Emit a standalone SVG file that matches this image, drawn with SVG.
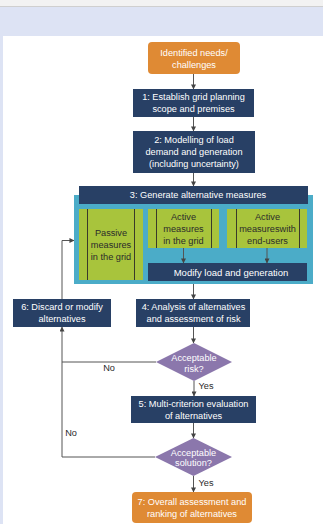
<svg xmlns="http://www.w3.org/2000/svg" width="323" height="524" viewBox="0 0 323 524">
<defs>
<style>
text{font-family:"Liberation Sans",Arial,sans-serif;font-size:9.2px;text-anchor:middle;dominant-baseline:central}
.w{fill:#ffffff}
.d{fill:#2b2b2b}
.navy{fill:#284065}
.org{fill:#df8a34}
.grn{fill:#a8c43c}
.dia{fill:#8b77ac}
.ln{fill:none;stroke:#555555;stroke-width:1}
.vl{stroke:#3a3a2a;stroke-width:1}
</style>
<marker id="ah" viewBox="0 0 6 6" refX="5.5" refY="3" markerWidth="5" markerHeight="5" orient="auto" markerUnits="userSpaceOnUse">
<path d="M0,0 L6,3 L0,6 z" fill="#444444"/>
</marker>
</defs>
<rect x="0" y="0" width="323" height="524" fill="#dde3f4"/>
<rect x="0" y="0" width="323" height="6" fill="#f2f2f2"/>
<line x1="0" y1="6.5" x2="323" y2="6.5" stroke="#cfcfcf" stroke-width="1"/>
<rect x="3" y="36" width="320" height="488" fill="#ffffff"/>

<g id="container">
<rect x="74" y="195" width="239" height="89" fill="#4bacc8"/>
</g>

<g id="n0"><rect class="org" x="148" y="42" width="92" height="32" rx="4"/>
<text class="w" x="194" y="53">Identified needs/</text><text class="w" x="194" y="65">challenges</text></g>

<g id="n1"><rect class="navy" x="133" y="89" width="121" height="28"/>
<text class="w" x="193.5" y="96.5">1: Establish grid planning</text><text class="w" x="193.5" y="109">scope and premises</text></g>

<g id="n2"><rect class="navy" x="133" y="131" width="122" height="42"/>
<text class="w" x="194" y="140">2: Modelling of load</text><text class="w" x="194" y="152">demand and generation</text><text class="w" x="194" y="164">(including uncertainty)</text></g>

<g id="n3"><rect class="navy" x="79" y="186" width="229" height="18"/>
<text class="w" x="198" y="195">3: Generate alternative measures</text></g>

<g id="passive"><rect class="grn" x="79" y="209" width="64" height="71"/>
<line class="vl" x1="87.5" y1="209" x2="87.5" y2="280"/><line class="vl" x1="134.5" y1="209" x2="134.5" y2="280"/>
<text class="d" x="111" y="233">Passive</text><text class="d" x="111" y="245">measures</text><text class="d" x="111" y="256.5">in the grid</text></g>

<g id="activegrid"><rect class="grn" x="148" y="209" width="71" height="39"/>
<line class="vl" x1="156.5" y1="209" x2="156.5" y2="248"/><line class="vl" x1="211.5" y1="209" x2="211.5" y2="248"/>
<text class="d" x="183.5" y="217">Active</text><text class="d" x="183.5" y="229">measures</text><text class="d" x="183.5" y="241">in the grid</text></g>

<g id="activeend"><rect class="grn" x="227" y="209" width="80" height="39"/>
<line class="vl" x1="236.5" y1="209" x2="236.5" y2="248"/><line class="vl" x1="299.5" y1="209" x2="299.5" y2="248"/>
<text class="d" x="267.5" y="217">Active</text><text class="d" x="267.5" y="229">measureswith</text><text class="d" x="267.5" y="241">end-users</text></g>

<g id="modify"><rect class="navy" x="148" y="263" width="159" height="18"/>
<text class="w" x="231" y="272" style="font-size:9.5px">Modify load and generation</text></g>

<g id="n4"><rect class="navy" x="136" y="299" width="114" height="28"/>
<text class="w" x="193.5" y="307">4: Analysis of alternatives</text><text class="w" x="193.5" y="319">and assessment of risk</text></g>

<g id="n6"><rect class="navy" x="13" y="299" width="98" height="28"/>
<text class="w" x="62" y="307">6: Discard or modify</text><text class="w" x="62" y="319">alternatives</text></g>

<g id="d1"><path class="dia" d="M194,343 L232,362 L194,381 L156,362 z"/>
<text class="w" x="194" y="358">Acceptable</text><text class="w" x="194" y="369">risk?</text></g>

<g id="n5"><rect class="navy" x="131" y="396" width="125" height="27"/>
<text class="w" x="193.5" y="404">5: Multi-criterion evaluation</text><text class="w" x="193.5" y="415.5">of alternatives</text></g>

<g id="d2"><path class="dia" d="M193.5,438 L232,457 L193.5,476 L155,457 z"/>
<text class="w" x="193.5" y="452.5">Acceptable</text><text class="w" x="193.5" y="462.5">solution?</text></g>

<g id="n7"><rect class="org" x="132" y="492" width="120" height="31" rx="4"/>
<text class="w" x="192" y="502">7: Overall assessment and</text><text class="w" x="192" y="514">ranking of alternatives</text></g>

<g id="connectors">
<line class="ln" x1="193.5" y1="74" x2="193.5" y2="89" marker-end="url(#ah)"/>
<line class="ln" x1="193.5" y1="117" x2="193.5" y2="131" marker-end="url(#ah)"/>
<line class="ln" x1="193.5" y1="173" x2="193.5" y2="186" marker-end="url(#ah)"/>
<line class="ln" x1="183.5" y1="248" x2="183.5" y2="263" marker-end="url(#ah)"/>
<line class="ln" x1="267" y1="248" x2="267" y2="263" marker-end="url(#ah)"/>
<line class="ln" x1="193.5" y1="284" x2="193.5" y2="299" marker-end="url(#ah)"/>
<line class="ln" x1="193.5" y1="327" x2="193.5" y2="343" marker-end="url(#ah)"/>
<line class="ln" x1="194" y1="381" x2="194" y2="396" marker-end="url(#ah)"/>
<line class="ln" x1="193.5" y1="423" x2="193.5" y2="438" marker-end="url(#ah)"/>
<line class="ln" x1="193.5" y1="476" x2="193.5" y2="492" marker-end="url(#ah)"/>
<polyline class="ln" points="156,362 62,362 62,327" marker-end="url(#ah)"/>
<polyline class="ln" points="155,457 62,457 62,362"/>
<polyline class="ln" points="62,299 62,240.5 74,240.5" marker-end="url(#ah)"/>
<text class="d" x="109" y="368">No</text>
<text class="d" x="206" y="385.5">Yes</text>
<text class="d" x="71" y="433">No</text>
<text class="d" x="206" y="482.5">Yes</text>
</g>
</svg>
